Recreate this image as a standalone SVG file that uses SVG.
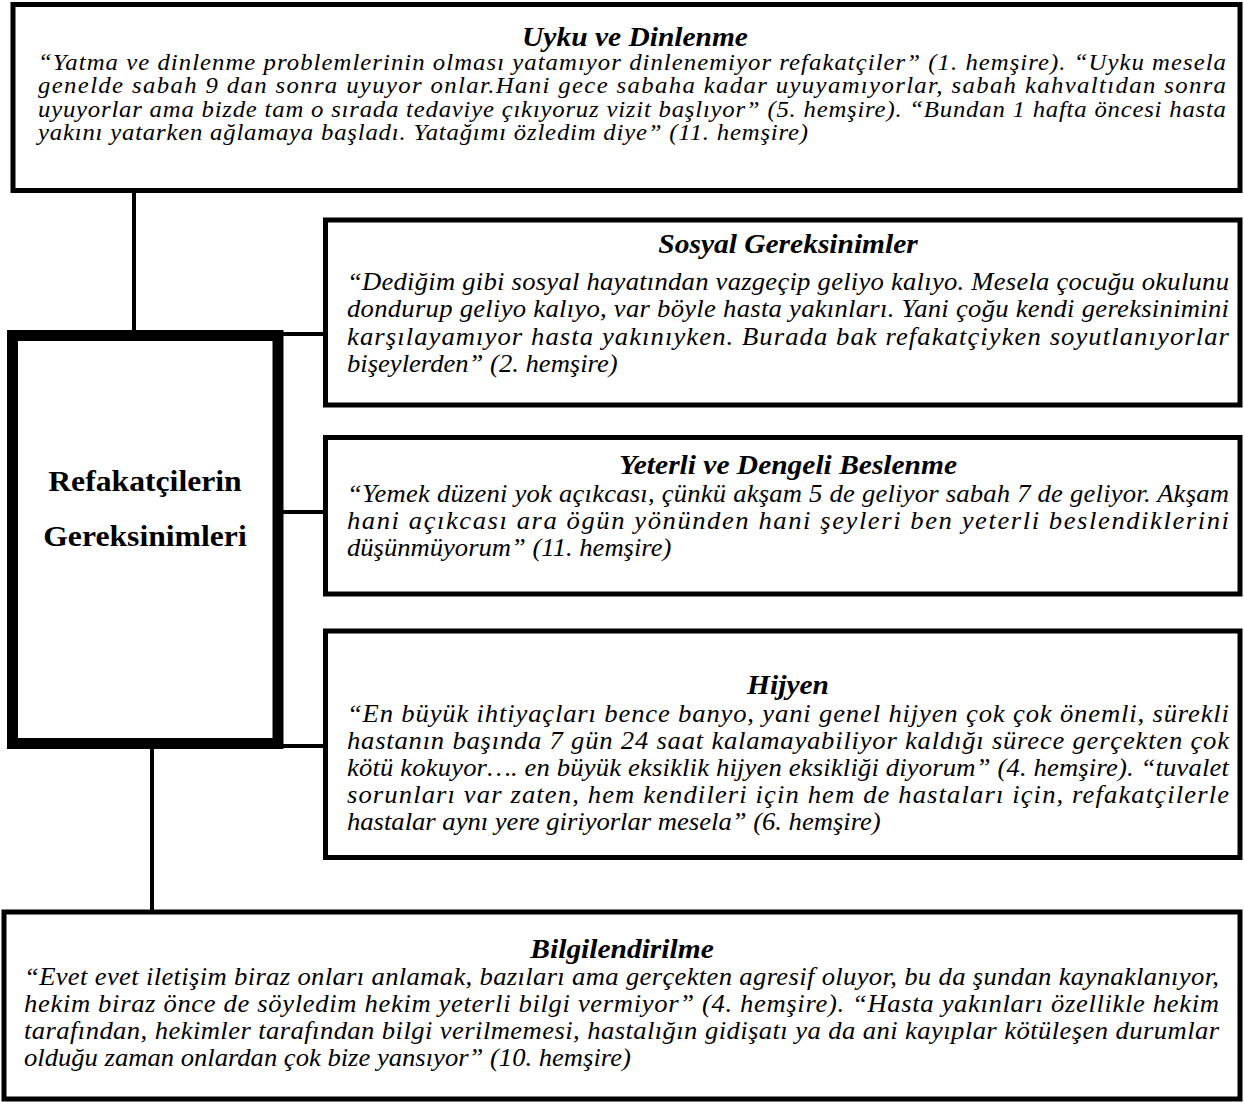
<svg xmlns="http://www.w3.org/2000/svg" width="1244" height="1102" viewBox="0 0 1244 1102">
<style>
.box{fill:#fff;stroke:#000;stroke-width:5}
.main{fill:#fff;stroke:#000;stroke-width:11}
.ln{stroke:#000;stroke-width:4;fill:none}
text{font-family:"Liberation Serif","Times New Roman",serif;fill:#000}
.t{font-size:26.8px;font-weight:bold;font-style:italic;text-anchor:middle}
.b{font-size:24.2px;font-style:italic}
.bs{font-size:22.5px;font-style:italic}
.m{font-size:28.8px;font-weight:bold;text-anchor:middle}
</style>
<rect width="1244" height="1102" fill="#fff"/>
<g id="connectors">
<line class="ln" x1="134" y1="190" x2="134" y2="335"/>
<line class="ln" x1="278" y1="334" x2="326" y2="334"/>
<line class="ln" x1="278" y1="512" x2="326" y2="512"/>
<line class="ln" x1="278" y1="746" x2="326" y2="746"/>
<line class="ln" x1="152" y1="744" x2="152" y2="912"/>
</g>
<g id="uyku">
<rect class="box" x="13" y="4.5" width="1227" height="186"/>
<g transform="scale(1.1 1)">
<text class="t" x="577.3" y="46">Uyku ve Dinlenme</text>
<text class="bs" x="34.55" y="70" textLength="1080" lengthAdjust="spacing">“Yatma ve dinlenme problemlerinin olması yatamıyor dinlenemiyor refakatçiler” (1. hemşire). “Uyku mesela</text>
<text class="bs" x="34.55" y="93.5" textLength="1080" lengthAdjust="spacing">genelde sabah 9 dan sonra uyuyor onlar.Hani gece sabaha kadar uyuyamıyorlar, sabah kahvaltıdan sonra</text>
<text class="bs" x="34.55" y="117" textLength="1080" lengthAdjust="spacing">uyuyorlar ama bizde tam o sırada tedaviye çıkıyoruz vizit başlıyor” (5. hemşire). “Bundan 1 hafta öncesi hasta</text>
<text class="bs" x="34.55" y="140.5" textLength="700" lengthAdjust="spacing">yakını yatarken ağlamaya başladı. Yatağımı özledim diye” (11. hemşire)</text>
</g>
</g>
<g id="refakatcilerin">
<rect class="main" x="12.5" y="335.5" width="265.5" height="408"/>
<g transform="scale(1.1 1)">
<text class="m" x="131.8" y="491">Refakatçilerin</text>
<text class="m" x="131.8" y="546">Gereksinimleri</text>
</g>
</g>
<g id="sosyal">
<rect class="box" x="325.5" y="220" width="914.5" height="185"/>
<g transform="scale(1.1 1)">
<text class="t" x="716.4" y="253">Sosyal Gereksinimler</text>
<text class="b" x="315.45" y="290" textLength="801.8" lengthAdjust="spacing">“Dediğim gibi sosyal hayatından vazgeçip geliyo kalıyo. Mesela çocuğu okulunu</text>
<text class="b" x="315.45" y="317.5" textLength="801.8" lengthAdjust="spacing">dondurup geliyo kalıyo, var böyle hasta yakınları. Yani çoğu kendi gereksinimini</text>
<text class="b" x="315.45" y="345" textLength="801.8" lengthAdjust="spacing">karşılayamıyor hasta yakınıyken. Burada bak refakatçiyken soyutlanıyorlar</text>
<text class="b" x="315.45" y="372">bişeylerden” (2. hemşire)</text>
</g>
</g>
<g id="beslenme">
<rect class="box" x="325.5" y="437.5" width="914.5" height="156.5"/>
<g transform="scale(1.1 1)">
<text class="t" x="716.4" y="474">Yeterli ve Dengeli Beslenme</text>
<text class="b" x="315.45" y="502" textLength="801.8" lengthAdjust="spacing">“Yemek düzeni yok açıkcası, çünkü akşam 5 de geliyor sabah 7 de geliyor. Akşam</text>
<text class="b" x="315.45" y="529" textLength="801.8" lengthAdjust="spacing">hani açıkcası ara ögün yönünden hani şeyleri ben yeterli beslendiklerini</text>
<text class="b" x="315.45" y="556">düşünmüyorum” (11. hemşire)</text>
</g>
</g>
<g id="hijyen">
<rect class="box" x="325.5" y="631" width="914.5" height="226.5"/>
<g transform="scale(1.1 1)">
<text class="t" x="716.4" y="694">Hijyen</text>
<text class="b" x="315.45" y="722" textLength="801.8" lengthAdjust="spacing">“En büyük ihtiyaçları bence banyo, yani genel hijyen çok çok önemli, sürekli</text>
<text class="b" x="315.45" y="749" textLength="801.8" lengthAdjust="spacing">hastanın başında 7 gün 24 saat kalamayabiliyor kaldığı sürece gerçekten çok</text>
<text class="b" x="315.45" y="776" textLength="801.8" lengthAdjust="spacing">kötü kokuyor…. en büyük eksiklik hijyen eksikliği diyorum” (4. hemşire). “tuvalet</text>
<text class="b" x="315.45" y="803" textLength="801.8" lengthAdjust="spacing">sorunları var zaten, hem kendileri için hem de hastaları için, refakatçilerle</text>
<text class="b" x="315.45" y="830">hastalar aynı yere giriyorlar mesela” (6. hemşire)</text>
</g>
</g>
<g id="bilgilendirilme">
<rect class="box" x="4" y="912" width="1236" height="187"/>
<g transform="scale(1.1 1)">
<text class="t" x="565.5" y="958">Bilgilendirilme</text>
<text class="b" x="21.82" y="985.5" textLength="1086.4" lengthAdjust="spacing">“Evet evet iletişim biraz onları anlamak, bazıları ama gerçekten agresif oluyor, bu da şundan kaynaklanıyor,</text>
<text class="b" x="21.82" y="1012.5" textLength="1086.4" lengthAdjust="spacing">hekim biraz önce de söyledim hekim yeterli bilgi vermiyor” (4. hemşire). “Hasta yakınları özellikle hekim</text>
<text class="b" x="21.82" y="1039.5" textLength="1086.4" lengthAdjust="spacing">tarafından, hekimler tarafından bilgi verilmemesi, hastalığın gidişatı ya da ani kayıplar kötüleşen durumlar</text>
<text class="b" x="21.82" y="1066.5">olduğu zaman onlardan çok bize yansıyor” (10. hemşire)</text>
</g>
</g>
</svg>
